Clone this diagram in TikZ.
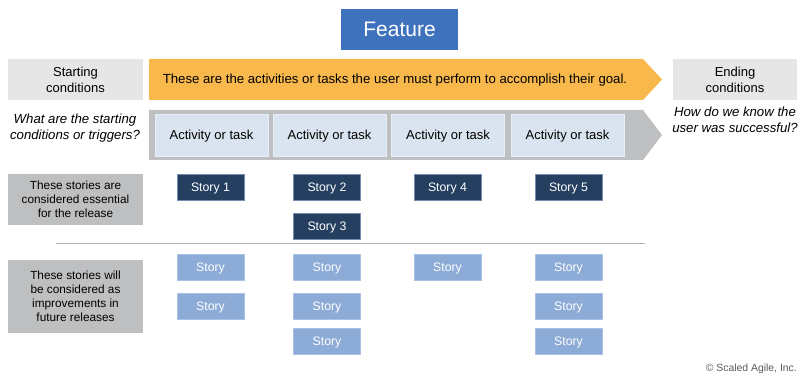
\documentclass[tikz,border=0pt]{standalone}
\usepackage{fontspec}
\setmainfont{Liberation Sans}
\definecolor{featblue}{HTML}{3F72BC}
\definecolor{orangebar}{HTML}{F8B84B}
\definecolor{greybar}{HTML}{BEBFC1}
\definecolor{lightgrey}{HTML}{E6E6E6}
\definecolor{actfill}{HTML}{DAE4F0}
\definecolor{actedge}{HTML}{E8EEF6}
\definecolor{darkstory}{HTML}{243F5F}
\definecolor{lightstory}{HTML}{8DABD7}
\definecolor{lightedge}{HTML}{A9C1E3}
\definecolor{sepline}{HTML}{B4B4B4}
\begin{document}
\begin{tikzpicture}[x=1pt,y=-1pt,
  box/.style={rectangle,inner sep=0pt,align=center},
  activity/.style={box,fill=actfill,draw=actedge,line width=0.8pt,minimum width=113pt,minimum height=42pt,text depth=0.5pt,font=\fontsize{13}{15}\selectfont},
  darkst/.style={box,fill=darkstory,draw=lightedge!60!darkstory,line width=0.6pt,minimum width=67pt,minimum height=26pt,text depth=0.5pt,text=white,font=\fontsize{12.3}{14}\selectfont},
  lightst/.style={box,fill=lightstory,draw=lightedge,line width=0.6pt,minimum width=67pt,minimum height=26pt,text depth=0.5pt,text=white,font=\fontsize{12.3}{14}\selectfont},
  sidebox/.style={box,fill=greybar,minimum width=135pt,font=\fontsize{11.8}{14}\selectfont},
  condbox/.style={box,fill=lightgrey,minimum height=41pt,font=\fontsize{13}{16}\selectfont},
  question/.style={box,font=\itshape\fontsize{13.2}{16.5}\selectfont}]
\useasboundingbox (0,0) rectangle (800,379);
% Feature
\node[box,fill=featblue,minimum width=117pt,minimum height=41pt,text=white,font=\fontsize{21}{24}\selectfont] (feature) at (399.5,29.5) {Feature};
% starting / ending conditions
\node[condbox,minimum width=135pt] (start) at (75.5,79.5) {Starting\\conditions};
\node[condbox,minimum width=124pt] (end) at (735,79.5) {Ending\\conditions};
\node[question] (startq) at (75,128) {What are the starting\\conditions or triggers?};
\node[question] (endq) at (735,120) {How do we know the\\user was successful?};
% orange arrow
\fill[orangebar] (149,59) -- (643,59) -- (662,79.5) -- (643,100) -- (149,100) -- cycle;
\node[box,font=\fontsize{13.2}{15}\selectfont] (tasks) at (395,80) {These are the activities or tasks the user must perform to accomplish their goal.};
% grey arrow
\fill[greybar] (149,110) -- (643,110) -- (662,135) -- (643,160) -- (149,160) -- cycle;
\node[activity] (a1) at (211.5,135) {Activity or task};
\node[activity] (a2) at (329.5,135) {Activity or task};
\node[activity] (a3) at (448,135) {Activity or task};
\node[activity] (a4) at (567.5,135) {Activity or task};
% left side boxes
\node[sidebox,minimum height=51pt] (essential) at (75.5,199.5) {These stories are\\considered essential\\for the release};
\node[sidebox,minimum height=72pt] (future) at (75.5,296.5) {These stories will\\be considered as\\improvements in\\future releases};
% separator
\coordinate (sepL) at (56,244);
\coordinate (sepR) at (645,244);
\draw[sepline,line width=1pt] (sepL) -- (sepR);
% essential stories
\node[darkst] (s1) at (210.5,187) {Story 1};
\node[darkst] (s2) at (327,187) {Story 2};
\node[darkst] (s3) at (327,226) {Story 3};
\node[darkst] (s4) at (447.5,187) {Story 4};
\node[darkst] (s5) at (568.5,187) {Story 5};
% future stories
\node[lightst] (f11) at (210.5,267) {Story};
\node[lightst] (f12) at (210.5,306) {Story};
\node[lightst] (f21) at (327,267) {Story};
\node[lightst] (f22) at (327,306) {Story};
\node[lightst] (f23) at (327,341.5) {Story};
\node[lightst] (f31) at (447.5,267) {Story};
\node[lightst] (f41) at (568.5,267) {Story};
\node[lightst] (f42) at (568.5,306) {Story};
\node[lightst] (f43) at (568.5,341.5) {Story};
% copyright
\node[box,anchor=east,text=black!65,font=\fontsize{10.4}{12}\selectfont] (copy) at (797,369) {© Scaled Agile, Inc.};
\end{tikzpicture}
\end{document}
